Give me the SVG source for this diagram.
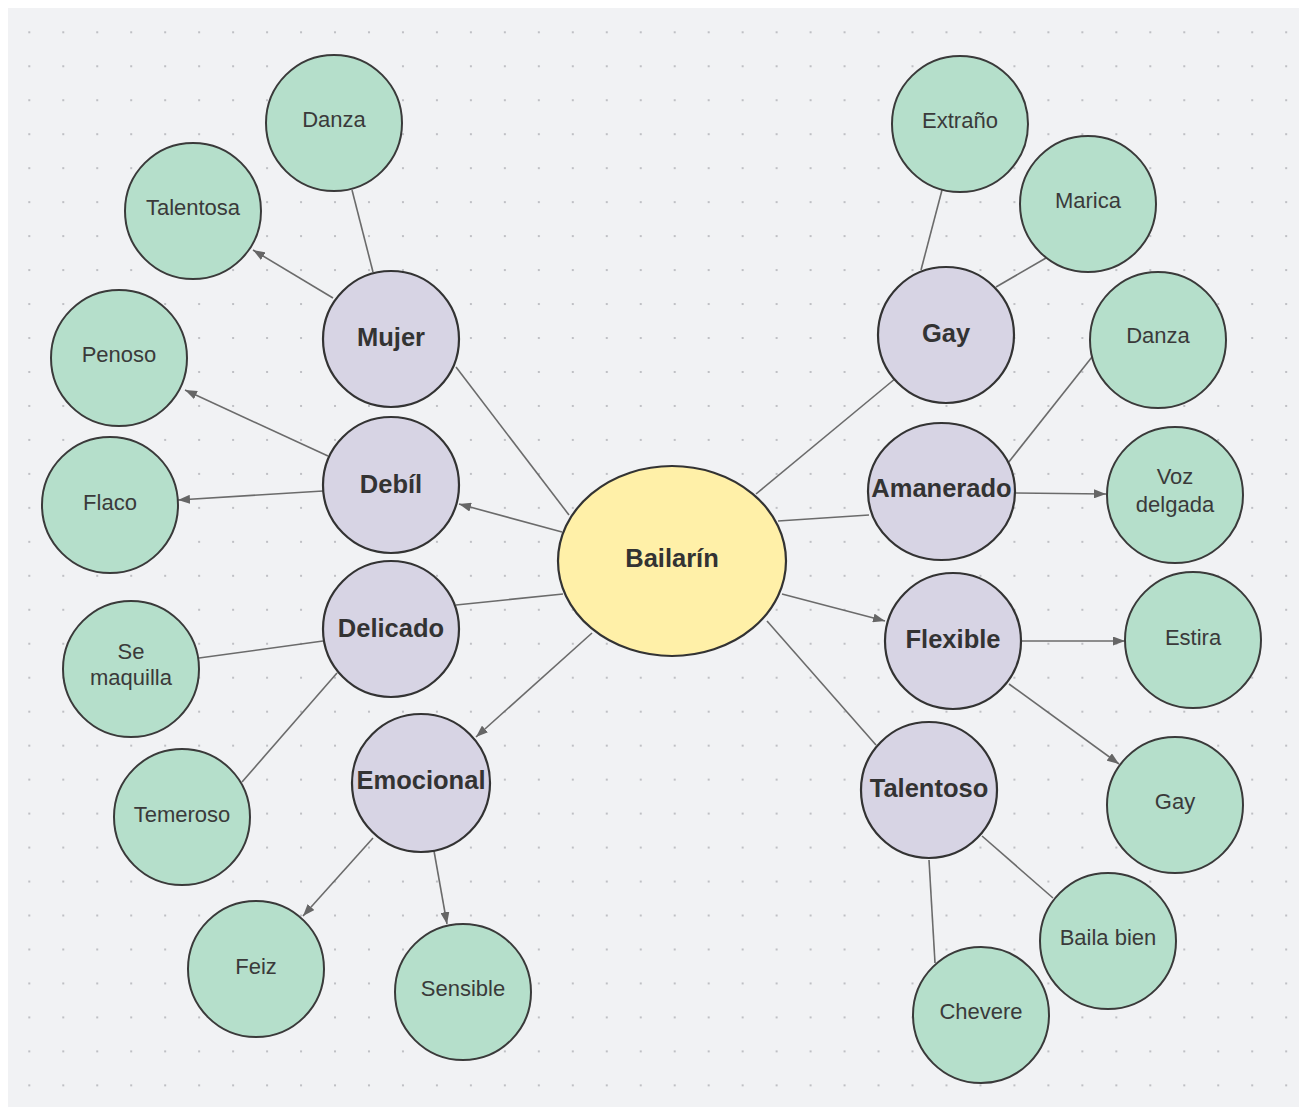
<svg xmlns="http://www.w3.org/2000/svg" width="1299" height="1107" viewBox="0 0 1299 1107">
<defs>
<pattern id="dots" x="12.3" y="15.3" width="33.97" height="33.97" patternUnits="userSpaceOnUse">
<circle cx="17" cy="17" r="1.1" fill="#b3b4b9"/>
</pattern>
<marker id="arr" viewBox="0 0 12 9" refX="12" refY="4.5" markerWidth="12" markerHeight="9" markerUnits="userSpaceOnUse" orient="auto">
<path d="M0,0 L12,4.5 L0,9 z" fill="#666"/>
</marker>
<style>
.edge{stroke:#6b6b6b;stroke-width:1.6;fill:none}
.a{marker-end:url(#arr)}
.g{fill:#b5dfcb;stroke:#3a3a3a;stroke-width:2}
.p{fill:#d7d4e4;stroke:#333;stroke-width:2.2}
.y{fill:#fff0a8;stroke:#333;stroke-width:2.2}
.tg{font-family:"Liberation Sans",Arial,sans-serif;font-size:22px;fill:#3a3a3a;text-anchor:middle}
.tp{font-family:"Liberation Sans",Arial,sans-serif;font-size:25.5px;font-weight:bold;fill:#333;text-anchor:middle}
</style>
</defs>
<rect x="0" y="0" width="1299" height="1107" fill="#ffffff"/>
<rect x="8" y="8" width="1291" height="1099" fill="#f1f2f4"/>
<rect x="8" y="8" width="1291" height="1099" fill="url(#dots)"/>

<g id="connectors">
<line class="edge" x1="373" y1="272" x2="352" y2="190"/>
<line class="edge a" x1="333" y1="298" x2="253" y2="250"/>
<line class="edge" x1="569" y1="515" x2="456" y2="367"/>
<line class="edge a" x1="328" y1="456" x2="185" y2="390"/>
<line class="edge a" x1="323" y1="491" x2="178" y2="500"/>
<line class="edge a" x1="562" y1="532" x2="459" y2="504"/>
<line class="edge" x1="563" y1="594" x2="456" y2="605"/>
<line class="edge" x1="323" y1="641" x2="199" y2="658"/>
<line class="edge" x1="337" y1="673" x2="242" y2="782"/>
<line class="edge a" x1="592" y1="633" x2="476" y2="737"/>
<line class="edge a" x1="373" y1="838" x2="303" y2="916"/>
<line class="edge a" x1="434" y1="851" x2="447" y2="924"/>
<line class="edge" x1="756" y1="494" x2="896" y2="378"/>
<line class="edge" x1="921" y1="270" x2="942" y2="190"/>
<line class="edge" x1="996" y1="287" x2="1046" y2="258"/>
<line class="edge" x1="778" y1="521" x2="869" y2="515"/>
<line class="edge" x1="1008" y1="463" x2="1092" y2="357"/>
<line class="edge a" x1="1015" y1="493" x2="1106" y2="494"/>
<line class="edge a" x1="782" y1="594" x2="885" y2="621"/>
<line class="edge a" x1="1022" y1="641" x2="1125" y2="641"/>
<line class="edge a" x1="1009" y1="684" x2="1119" y2="764"/>
<line class="edge" x1="767" y1="621" x2="876" y2="745"/>
<line class="edge" x1="982" y1="836" x2="1053" y2="898"/>
<line class="edge" x1="929" y1="860" x2="935" y2="963"/>
</g>

<g id="n-bailarin"><ellipse class="y" cx="672" cy="561" rx="114" ry="95"/><text class="tp" x="672" y="567">Bailarín</text></g>

<g id="n-mujer"><circle class="p" cx="391" cy="339" r="68"/><text class="tp" x="391" y="346">Mujer</text></g>
<g id="n-debil"><circle class="p" cx="391" cy="485" r="68"/><text class="tp" x="391" y="493">Debíl</text></g>
<g id="n-delicado"><circle class="p" cx="391" cy="629" r="68"/><text class="tp" x="391" y="637">Delicado</text></g>
<g id="n-emocional"><circle class="p" cx="421" cy="783" r="69"/><text class="tp" x="421" y="789">Emocional</text></g>
<g id="n-gay"><circle class="p" cx="946" cy="335" r="68"/><text class="tp" x="946" y="342">Gay</text></g>
<g id="n-amanerado"><ellipse class="p" cx="941.5" cy="491.5" rx="73.5" ry="68.5"/><text class="tp" x="941.5" y="497">Amanerado</text></g>
<g id="n-flexible"><circle class="p" cx="953" cy="641" r="68"/><text class="tp" x="953" y="648">Flexible</text></g>
<g id="n-talentoso"><circle class="p" cx="929" cy="790" r="68"/><text class="tp" x="929" y="797">Talentoso</text></g>

<g id="n-danza-l"><circle class="g" cx="334" cy="123" r="68"/><text class="tg" x="334" y="127">Danza</text></g>
<g id="n-talentosa"><circle class="g" cx="193" cy="211" r="68"/><text class="tg" x="193" y="215">Talentosa</text></g>
<g id="n-penoso"><circle class="g" cx="119" cy="358" r="68"/><text class="tg" x="119" y="362">Penoso</text></g>
<g id="n-flaco"><circle class="g" cx="110" cy="505" r="68"/><text class="tg" x="110" y="510">Flaco</text></g>
<g id="n-semaquilla"><circle class="g" cx="131" cy="669" r="68"/><text class="tg" x="131" y="659">Se</text><text class="tg" x="131" y="685">maquilla</text></g>
<g id="n-temeroso"><circle class="g" cx="182" cy="817" r="68"/><text class="tg" x="182" y="822">Temeroso</text></g>
<g id="n-feiz"><circle class="g" cx="256" cy="969" r="68"/><text class="tg" x="256" y="974">Feiz</text></g>
<g id="n-sensible"><circle class="g" cx="463" cy="992" r="68"/><text class="tg" x="463" y="996">Sensible</text></g>
<g id="n-extrano"><circle class="g" cx="960" cy="124" r="68"/><text class="tg" x="960" y="128">Extraño</text></g>
<g id="n-marica"><circle class="g" cx="1088" cy="204" r="68"/><text class="tg" x="1088" y="208">Marica</text></g>
<g id="n-danza-r"><circle class="g" cx="1158" cy="340" r="68"/><text class="tg" x="1158" y="343">Danza</text></g>
<g id="n-vozdelgada"><circle class="g" cx="1175" cy="495" r="68"/><text class="tg" x="1175" y="484">Voz</text><text class="tg" x="1175" y="512">delgada</text></g>
<g id="n-estira"><circle class="g" cx="1193" cy="640" r="68"/><text class="tg" x="1193" y="645">Estira</text></g>
<g id="n-gay-g"><circle class="g" cx="1175" cy="805" r="68"/><text class="tg" x="1175" y="809">Gay</text></g>
<g id="n-bailabien"><circle class="g" cx="1108" cy="941" r="68"/><text class="tg" x="1108" y="945">Baila bien</text></g>
<g id="n-chevere"><circle class="g" cx="981" cy="1015" r="68"/><text class="tg" x="981" y="1019">Chevere</text></g>
</svg>
